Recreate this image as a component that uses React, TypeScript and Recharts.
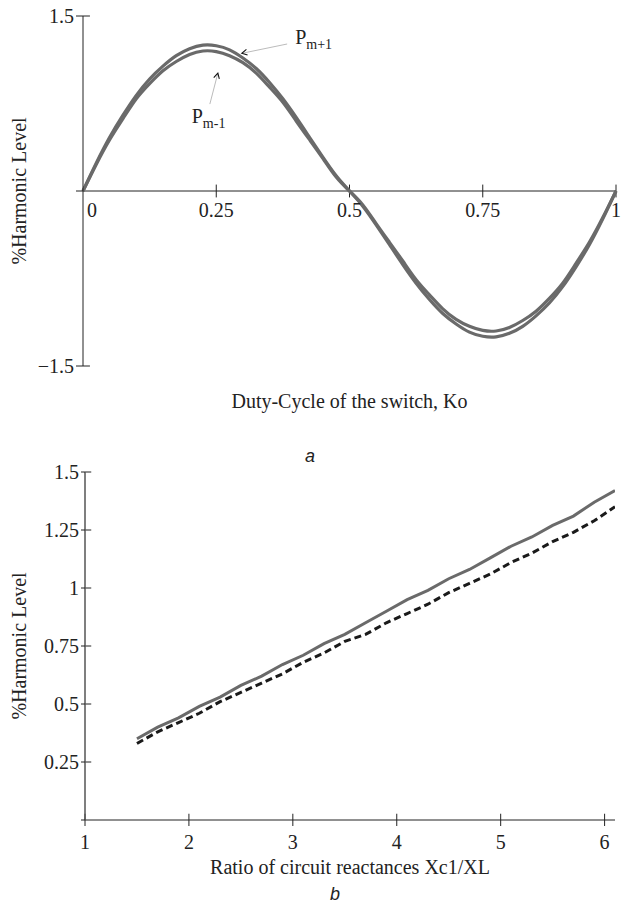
import React from "react";
import {
  LineChart,
  Line,
  XAxis,
  YAxis,
  ReferenceLine,
  ReferenceDot,
} from "recharts";

// panel a: duty cycle sweep
const DUTY = [
  0, 0.025, 0.05, 0.075, 0.1, 0.125, 0.15, 0.175, 0.2, 0.225, 0.25, 0.275, 0.3,
  0.325, 0.35, 0.375, 0.4, 0.425, 0.45, 0.475, 0.5, 0.525, 0.55, 0.575, 0.6,
  0.625, 0.65, 0.675, 0.7, 0.725, 0.75, 0.775, 0.8, 0.825, 0.85, 0.875, 0.9,
  0.925, 0.95, 0.975, 1,
];
const P_PLUS = [
  0, 0.24, 0.46, 0.65, 0.82, 0.96, 1.07, 1.16, 1.22, 1.25, 1.245, 1.21, 1.14,
  1.05, 0.93, 0.79, 0.63, 0.46, 0.29, 0.13, 0, -0.13, -0.29, -0.46, -0.63,
  -0.79, -0.93, -1.05, -1.14, -1.21, -1.245, -1.25, -1.22, -1.16, -1.07, -0.96,
  -0.82, -0.65, -0.46, -0.24, 0,
];
const P_MINUS = [
  0, 0.23, 0.44, 0.62, 0.79, 0.92, 1.03, 1.11, 1.17, 1.2, 1.195, 1.16, 1.1,
  1.01, 0.89, 0.76, 0.6, 0.44, 0.28, 0.12, 0, -0.12, -0.28, -0.44, -0.6, -0.76,
  -0.89, -1.01, -1.1, -1.16, -1.195, -1.2, -1.17, -1.11, -1.03, -0.92, -0.79,
  -0.62, -0.44, -0.23, 0,
];
const A_XTICKS = [0.25, 0.5, 0.75, 1];
const A_YTICKS = [-1.5, 0, 1.5];

// panel b: reactance ratio sweep
const RATIO = [
  1.5, 1.7, 1.9, 2.1, 2.3, 2.5, 2.7, 2.9, 3.1, 3.3, 3.5, 3.7, 3.9, 4.1, 4.3,
  4.5, 4.7, 4.9, 5.1, 5.3, 5.5, 5.7, 5.9, 6.1,
];
const SOLID = [
  0.35, 0.4, 0.44, 0.49, 0.53, 0.58, 0.62, 0.67, 0.71, 0.76, 0.8, 0.85, 0.9,
  0.95, 0.99, 1.04, 1.08, 1.13, 1.18, 1.22, 1.27, 1.31, 1.37, 1.42,
];
const DASHED = [
  0.33, 0.38, 0.42, 0.46, 0.51, 0.55, 0.59, 0.63, 0.68, 0.72, 0.77, 0.8, 0.85,
  0.89, 0.93, 0.98, 1.02, 1.06, 1.11, 1.15, 1.2, 1.24, 1.29, 1.35,
];
const B_XTICKS = [1, 2, 3, 4, 5, 6];
const B_YTICKS = [0, 0.25, 0.5, 0.75, 1, 1.25, 1.5];

const dataA = DUTY.map((x, i) => ({ x, up: P_PLUS[i], down: P_MINUS[i] }));
const dataB = RATIO.map((x, i) => ({ x, solid: SOLID[i], dashed: DASHED[i] }));

const SERIF = "'Liberation Serif', 'Times New Roman', serif";
const CURVE = "#6a6a6a";
const INK = "#222";
const tickStyle = { fontFamily: SERIF, fontSize: 20, fill: INK };

const fmt = (v: number) => (v === 0 ? "" : String(v).replace("-", "\u2212"));

function tickLabel(text: string, dx = 0) {
  return (p: any) => (
    <text
      x={p.viewBox.x + p.viewBox.width / 2 + dx}
      y={p.viewBox.y + 27}
      textAnchor={dx ? "start" : "middle"}
      style={tickStyle}
    >
      {text}
    </text>
  );
}

function subLabel(main: string, sub: string) {
  return (p: any) => (
    <text
      x={p.viewBox.x + p.viewBox.width / 2}
      y={p.viewBox.y + p.viewBox.height / 2}
      style={{ fontFamily: SERIF, fontSize: 20, fill: INK }}
    >
      {main}
      <tspan fontSize={14} dy={5}>
        {sub}
      </tspan>
    </text>
  );
}

const Arrow = (p: any) => {
  const { x1, y1, x2, y2 } = p;
  const a = Math.atan2(y2 - y1, x2 - x1);
  const h = 6;
  const l1 = [x2 - h * Math.cos(a - 0.5), y2 - h * Math.sin(a - 0.5)];
  const l2 = [x2 - h * Math.cos(a + 0.5), y2 - h * Math.sin(a + 0.5)];
  return (
    <g>
      <line x1={x1} y1={y1} x2={x2} y2={y2} stroke="#aaa" strokeWidth={0.8} />
      <polyline
        points={`${l1[0]},${l1[1]} ${x2},${y2} ${l2[0]},${l2[1]}`}
        fill="none"
        stroke="#111"
        strokeWidth={1.1}
      />
    </g>
  );
};

function PanelA() {
  return (
    <LineChart
      width={621}
      height={440}
      data={dataA}
      margin={{ top: 16, right: 5, bottom: 0, left: 0 }}
    >
      <XAxis
        type="number"
        dataKey="x"
        domain={[0, 1]}
        axisLine={false}
        tickLine={false}
        tick={false}
        height={74}
        label={{
          value: "Duty-Cycle of the switch, Ko",
          position: "insideTop",
          offset: 28,
          style: tickStyle,
        }}
      />
      <YAxis
        type="number"
        domain={[-1.5, 1.5]}
        ticks={A_YTICKS}
        tickFormatter={fmt}
        width={83}
        tickSize={7}
        axisLine={{ stroke: INK }}
        tickLine={{ stroke: INK }}
        tick={tickStyle}
        label={{
          value: "%Harmonic Level",
          angle: -90,
          position: "insideLeft",
          offset: 19,
          style: { ...tickStyle, textAnchor: "middle" },
        }}
      />
      <ReferenceLine y={0} stroke={INK} strokeWidth={1} />
      {A_XTICKS.map((t) => (
        <ReferenceLine
          key={t}
          segment={[
            { x: t, y: -0.055 },
            { x: t, y: 0.055 },
          ]}
          stroke={INK}
        />
      ))}
      {[-1.5, 1.5].map((t) => (
        <ReferenceLine
          key={t}
          segment={[
            { x: 0, y: t },
            { x: 0.013, y: t },
          ]}
          stroke={INK}
        />
      ))}
      {A_XTICKS.map((t) => (
        <ReferenceDot
          key={"l" + t}
          x={t}
          y={0}
          r={1}
          fill="none"
          stroke="none"
          label={tickLabel(String(t))}
        />
      ))}
      <ReferenceDot
        x={0}
        y={0}
        r={1}
        fill="none"
        stroke="none"
        label={tickLabel("0", 4)}
      />
      <Line
        type="natural"
        dataKey="up"
        stroke={CURVE}
        strokeWidth={3.2}
        dot={false}
        isAnimationActive={false}
      />
      <Line
        type="natural"
        dataKey="down"
        stroke={CURVE}
        strokeWidth={3.2}
        dot={false}
        isAnimationActive={false}
      />
      <ReferenceLine
        segment={[
          { x: 0.383, y: 1.26 },
          { x: 0.298, y: 1.18 },
        ]}
        shape={Arrow}
      />
      <ReferenceLine
        segment={[
          { x: 0.238, y: 0.745 },
          { x: 0.253, y: 1.01 },
        ]}
        shape={Arrow}
      />
      <ReferenceDot
        x={0.398}
        y={1.26}
        r={1}
        fill="none"
        stroke="none"
        label={subLabel("P", "m+1")}
      />
      <ReferenceDot
        x={0.204}
        y={0.58}
        r={1}
        fill="none"
        stroke="none"
        label={subLabel("P", "m-1")}
      />
    </LineChart>
  );
}

function PanelB() {
  return (
    <LineChart
      width={621}
      height={464}
      data={dataB}
      margin={{ top: 32, right: 6, bottom: 0, left: 0 }}
    >
      <XAxis
        type="number"
        dataKey="x"
        domain={[1, 6.1]}
        ticks={B_XTICKS}
        allowDataOverflow
        height={84}
        tickSize={6}
        tickMargin={9}
        axisLine={{ stroke: INK }}
        tickLine={{ stroke: INK }}
        tick={tickStyle}
        label={{
          value: "Ratio of circuit reactances Xc1/XL",
          position: "insideTop",
          offset: 40,
          style: tickStyle,
        }}
      />
      <YAxis
        type="number"
        domain={[0, 1.5]}
        ticks={B_YTICKS}
        tickFormatter={fmt}
        width={85}
        tickSize={4}
        axisLine={{ stroke: "#555", strokeWidth: 1.5 }}
        tickLine={{ stroke: INK }}
        tick={tickStyle}
        label={{
          value: "%Harmonic Level",
          angle: -90,
          position: "insideLeft",
          offset: 19,
          style: { ...tickStyle, textAnchor: "middle" },
        }}
      />
      {B_XTICKS.map((t) => (
        <ReferenceLine
          key={t}
          segment={[
            { x: t, y: 0 },
            { x: t, y: 0.027 },
          ]}
          stroke={INK}
        />
      ))}
      {B_YTICKS.slice(1).map((t) => (
        <ReferenceLine
          key={"y" + t}
          segment={[
            { x: 1, y: t },
            { x: 1.06, y: t },
          ]}
          stroke={INK}
        />
      ))}
      <Line
        type="linear"
        dataKey="solid"
        stroke={CURVE}
        strokeWidth={3}
        dot={false}
        isAnimationActive={false}
      />
      <Line
        type="linear"
        dataKey="dashed"
        stroke="#1a1a1a"
        strokeWidth={3}
        strokeDasharray="7 4"
        dot={false}
        isAnimationActive={false}
      />
    </LineChart>
  );
}

const caption: React.CSSProperties = {
  position: "absolute",
  fontFamily: "'Liberation Sans', Arial, sans-serif",
  fontStyle: "italic",
  fontSize: 18,
  color: INK,
};

export default function App() {
  return (
    <div
      style={{
        position: "absolute",
        left: 0,
        top: 0,
        width: 621,
        height: 904,
        background: "#fff",
      }}
    >
      <div style={{ position: "absolute", left: 0, top: 0 }}>
        <PanelA />
      </div>
      <div style={{ ...caption, left: 305, top: 446 }}>a</div>
      <div style={{ position: "absolute", left: 0, top: 440 }}>
        <PanelB />
      </div>
      <div style={{ ...caption, left: 330, top: 884 }}>b</div>
    </div>
  );
}
